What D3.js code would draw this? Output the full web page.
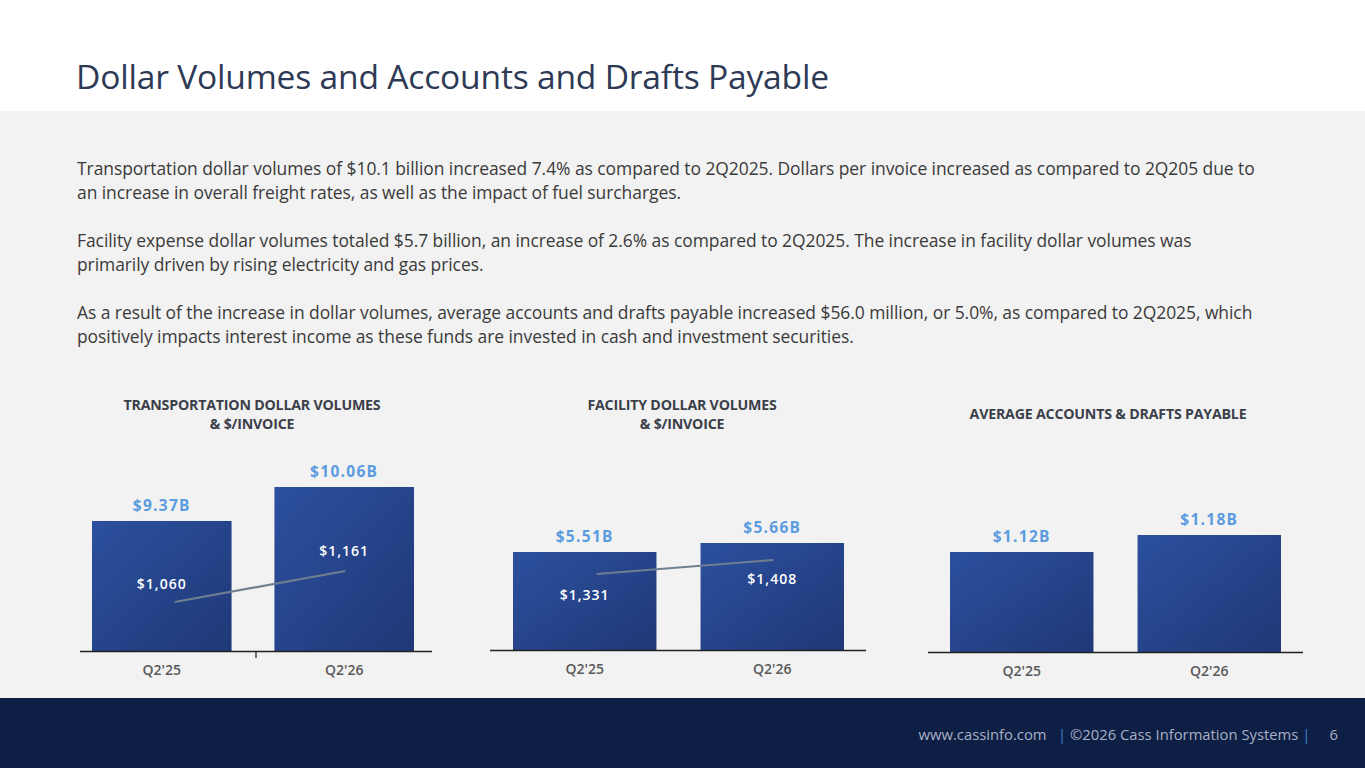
<!DOCTYPE html>
<html><head><meta charset="utf-8">
<script src="https://cdn.jsdelivr.net/npm/d3@7"></script>
<style>
body{margin:0;width:1365px;height:768px;overflow:hidden;font-family:"Open Sans","Noto Sans",sans-serif;}
</style></head>
<body><svg id="c" width="1365" height="768"></svg>
<script>
const svg = d3.select('#c');
const F = '"Open Sans","Noto Sans",sans-serif';

svg.append('rect').attr('width',1365).attr('height',111).attr('fill','#fff');
svg.append('rect').attr('y',111).attr('width',1365).attr('height',587).attr('fill','#f2f2f2');
svg.append('rect').attr('y',698).attr('width',1365).attr('height',70).attr('fill','#0e1f45');

svg.append('text').attr('x',76).attr('y',89).attr('font-family',F).attr('font-size',33.6)
  .attr('fill','#2e3a55').attr('letter-spacing',-0.2).text('Dollar Volumes and Accounts and Drafts Payable');

const paras = [
  ['Transportation dollar volumes of $10.1 billion increased 7.4% as compared to 2Q2025. Dollars per invoice increased as compared to 2Q205 due to',
   'an increase in overall freight rates, as well as the impact of fuel surcharges.'],
  ['Facility expense dollar volumes totaled $5.7 billion, an increase of 2.6% as compared to 2Q2025. The increase in facility dollar volumes was',
   'primarily driven by rising electricity and gas prices.'],
  ['As a result of the increase in dollar volumes, average accounts and drafts payable increased $56.0 million, or 5.0%, as compared to 2Q2025, which',
   'positively impacts interest income as these funds are invested in cash and investment securities.']
];
paras.forEach((p, i) => p.forEach((l, j) => {
  svg.append('text').attr('x',77).attr('y',175 + i*72 + j*24).attr('font-family',F)
    .attr('font-size',17.45).attr('fill','#3a3a3a').attr('letter-spacing',-0.05).text(l);
}));

// footer
svg.append('text').attr('x',1338).attr('y',740).attr('text-anchor','end').attr('font-family',F)
  .attr('font-size',14.8).attr('fill','#a8b0c4').attr('xml:space','preserve').style('white-space','pre')
  .html('www.cassinfo.com   <tspan fill="#3f7fd0">|</tspan> ©2026 Cass Information Systems <tspan fill="#3f7fd0">|</tspan>     6');

const grad = svg.append('defs').append('linearGradient').attr('id','bg')
  .attr('x1','0%').attr('y1','0%').attr('x2','100%').attr('y2','100%');
grad.append('stop').attr('offset','0%').attr('stop-color','#2c509e');
grad.append('stop').attr('offset','100%').attr('stop-color','#1f3877');

const charts = [
  {title:['TRANSPORTATION DOLLAR VOLUMES','& $/INVOICE'], tx:252, ty:410,
   bars:[{q:"Q2'25",v:9.37},{q:"Q2'26",v:10.06}], fmt:d=>'$'+d.toFixed(2)+'B',
   x0:92, x1:414, base:651, dom:[6.73,10.06], top:487, ax:[80,432], tick:true,
   line:[{v:1060,y:602},{v:1161,y:571}], ldx:[13,1], ly:[-13,-15]},
  {title:['FACILITY DOLLAR VOLUMES','& $/INVOICE'], tx:682, ty:410,
   bars:[{q:"Q2'25",v:5.51},{q:"Q2'26",v:5.66}], fmt:d=>'$'+d.toFixed(2)+'B',
   x0:513, x1:844, base:650, dom:[3.88,5.66], top:543, ax:[490,866], tick:false,
   line:[{v:1331,y:574},{v:1408,y:560}], ldx:[12,1], ly:[26,24]},
  {title:['AVERAGE ACCOUNTS & DRAFTS PAYABLE'], tx:1108, ty:419,
   bars:[{q:"Q2'25",v:1.12},{q:"Q2'26",v:1.18}], fmt:d=>'$'+d.toFixed(2)+'B',
   x0:950, x1:1281, base:652, dom:[0.767,1.18], top:535, ax:[928,1303], tick:false}
];

charts.forEach(c => {
  c.title.forEach((t, i) => svg.append('text').attr('x',c.tx).attr('y',c.ty + i*19)
    .attr('text-anchor','middle').attr('font-family',F).attr('font-weight',700)
    .attr('font-size',14.2).attr('fill','#3b3f4a').attr('letter-spacing',-0.2).text(t));
  const x = d3.scaleBand().domain(c.bars.map(d=>d.q)).range([c.x0,c.x1]).paddingInner(0.235);
  const y = d3.scaleLinear().domain(c.dom).range([c.base,c.top]);
  svg.selectAll(null).data(c.bars).join('rect')
    .attr('x',d=>x(d.q)).attr('y',d=>y(d.v)).attr('width',x.bandwidth())
    .attr('height',d=>c.base-y(d.v)).attr('fill','url(#bg)');
  svg.selectAll(null).data(c.bars).join('text')
    .attr('x',d=>x(d.q)+x.bandwidth()/2).attr('y',d=>y(d.v)-10).attr('text-anchor','middle')
    .attr('font-family',F).attr('font-weight',700).attr('font-size',15.5).attr('fill','#5b9be0')
    .attr('letter-spacing',1.3).text(d=>c.fmt(d.v));
  svg.append('line').attr('x1',c.ax[0]).attr('x2',c.ax[1]).attr('y1',c.base+0.5).attr('y2',c.base+0.5)
    .attr('stroke','#222').attr('stroke-width',1.3);
  if (c.tick) svg.append('line').attr('x1',(c.ax[0]+c.ax[1])/2).attr('x2',(c.ax[0]+c.ax[1])/2)
    .attr('y1',c.base).attr('y2',c.base+7).attr('stroke','#222').attr('stroke-width',1.3);
  svg.selectAll(null).data(c.bars).join('text')
    .attr('x',d=>x(d.q)+x.bandwidth()/2).attr('y',c.base+24).attr('text-anchor','middle')
    .attr('font-family',F).attr('font-weight',600).attr('font-size',14).attr('fill','#595959')
    .text(d=>d.q);
  if (c.line) {
    // the $/invoice line sits on its own hidden axis
    const yl = d3.scaleLinear().domain([c.line[0].v,c.line[1].v]).range([c.line[0].y,c.line[1].y]);
    const pts = c.line.map((d,i)=>[x(c.bars[i].q)+x.bandwidth()/2+c.ldx[i], yl(d.v)]);
    svg.append('path').attr('d',d3.line()(pts)).attr('stroke','#6f7f90').attr('stroke-width',2.2).attr('fill','none');
    c.line.forEach((d,i)=>svg.append('text').attr('x',x(c.bars[i].q)+x.bandwidth()/2)
      .attr('y',yl(d.v)+c.ly[i]).attr('text-anchor','middle').attr('font-family',F)
      .attr('font-weight',600).attr('font-size',14).attr('fill','#fff').attr('letter-spacing',1)
      .text('$'+d3.format(',')(d.v)));
  }
});
</script></body></html>
